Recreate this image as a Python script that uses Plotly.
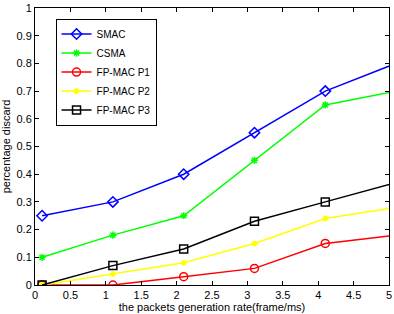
import plotly.graph_objects as go

x = [0.1, 1.1, 2.1, 3.1, 4.1, 5.1]
smac = [0.25, 0.30, 0.40, 0.55, 0.70, 0.80]
csma = [0.10, 0.18, 0.25, 0.45, 0.65, 0.70]
p1 = [0.0, 0.0, 0.03, 0.06, 0.15, 0.18]
p2 = [0.0, 0.04, 0.08, 0.15, 0.24, 0.28]
p3 = [0.0, 0.07, 0.13, 0.23, 0.30, 0.37]
x_ticks = [0, 0.5, 1, 1.5, 2, 2.5, 3, 3.5, 4, 4.5, 5]
x_tick_labels = ["0", "0.5", "1", "1.5", "2", "2.5", "3", "3.5", "4", "4.5", "5"]
y_ticks = [0, 0.1, 0.2, 0.3, 0.4, 0.5, 0.6, 0.7, 0.8, 0.9, 1]
y_tick_labels = ["0", "0.1", "0.2", "0.3", "0.4", "0.5", "0.6", "0.7", "0.8", "0.9", "1"]

series = [
    ("SMAC", smac, "#0000ff", "diamond-open", 8),
    ("CSMA", csma, "#00ff00", "asterisk-open", 6),
    ("FP-MAC P1", p1, "#ff0000", "circle-open", 8),
    ("FP-MAC P2", p2, "#ffff00", "asterisk-open", 5),
    ("FP-MAC P3", p3, "#000000", "square-open", 8),
]

fig = go.Figure()
for name, y, c, sym, sz in series:
    fig.add_trace(go.Scatter(
        x=x, y=y, name=name, mode="lines+markers",
        line=dict(color=c, width=1.5),
        marker=dict(symbol=sym, size=sz, color=c, line=dict(color=c, width=1.5)),
    ))

font = dict(family="Liberation Sans, Arial", size=11, color="#000000")
axis_common = dict(
    showgrid=False, zeroline=False, showline=True, linecolor="#000000", linewidth=1,
    mirror="ticks", ticks="inside", ticklen=4, tickcolor="#000000", tickfont=font,
    ticklabeloverflow="allow",
)
fig.update_xaxes(range=[0, 5], tickvals=x_ticks, ticktext=x_tick_labels,
                 title=dict(text="the packets generation rate(frame/ms)", standoff=3, font=font),
                 **axis_common)
fig.update_yaxes(range=[0, 1], tickvals=y_ticks, ticktext=y_tick_labels,
                 title=dict(text="percentage discard", standoff=4, font=font),
                 **axis_common)

fig.update_layout(
    width=394, height=314,
    margin=dict(l=35, r=2, t=4, b=29),
    plot_bgcolor="#ffffff", paper_bgcolor="#ffffff",
    legend=dict(x=0.058, y=0.962, xanchor="left", yanchor="top",
                bordercolor="#000000", borderwidth=1, bgcolor="#ffffff",
                font=dict(family="Liberation Sans, Arial", size=10, color="#000000"),
                tracegroupgap=0, itemwidth=30),
    showlegend=True,
)
fig.write_html("out.html", config={"displayModeBar": False},
               post_script="document.body.style.margin='0';document.body.style.padding='0';")
